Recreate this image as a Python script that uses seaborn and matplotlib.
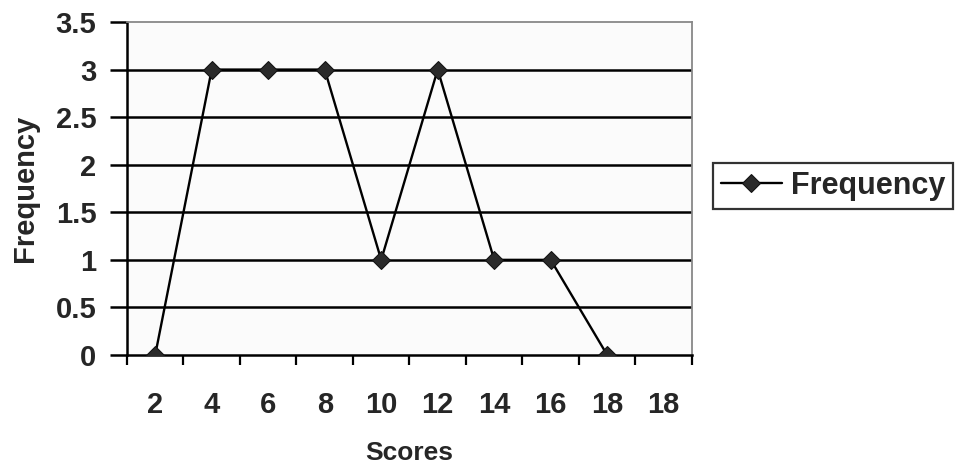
import matplotlib
matplotlib.use("Agg")
import matplotlib.pyplot as plt
import numpy as np
import pandas as pd
import seaborn as sns

# scores shown on the x axis (the last category has no value)
score_labels = ["2", "4", "6", "8", "10", "12", "14", "16", "18", "18"]
frequency = [0, 3, 3, 3, 1, 3, 1, 1, 0]
y_ticks = [0, 0.5, 1, 1.5, 2, 2.5, 3, 3.5]

sns.set_theme(style="white")
plt.rcParams["font.family"] = ["Liberation Sans", "DejaVu Sans"]
plt.rcParams["font.weight"] = "bold"

df = pd.DataFrame({"pos": np.arange(len(frequency)), "Frequency": frequency})

fig = plt.figure(figsize=(9.56, 4.66), dpi=100)
ax = fig.add_axes([0.1328, 0.2382, 0.5910, 0.7146])
ax.set_facecolor("#fbfbfb")

for yv in y_ticks[1:-1]:
    ax.axhline(yv, color="black", lw=1.8, zorder=1)

sns.lineplot(data=df, x="pos", y="Frequency", color="black", lw=1.7,
             marker="D", markersize=9, markerfacecolor="#2a2a2a",
             markeredgecolor="#111111", label="Frequency", ax=ax, zorder=3)

ax.set_xlim(-0.5, len(score_labels) - 0.5)
ax.set_ylim(0, 3.5)
ax.set_yticks(y_ticks)
ax.set_yticklabels([f"{v:g}" for v in y_ticks], fontsize=21, fontweight="bold")

# tick marks between categories, labels centred on categories
ax.set_xticks(np.arange(len(score_labels) + 1) - 0.5)
ax.set_xticklabels([])
ax.set_xticks(np.arange(len(score_labels)), minor=True)
ax.set_xticklabels(score_labels, minor=True, fontsize=21, fontweight="bold")
ax.tick_params(axis="x", which="major", direction="out", length=7, width=1.6,
               color="black", bottom=True)
ax.tick_params(axis="x", which="minor", length=0, pad=26, bottom=True)
ax.tick_params(axis="y", direction="out", length=12, width=1.8, color="black",
               left=True, pad=10)

ax.set_xlabel("Scores", fontsize=19, fontweight="bold", labelpad=16)
ax.set_ylabel("Frequency", fontsize=21, fontweight="bold", labelpad=12)

for side in ["left", "bottom"]:
    ax.spines[side].set_color("black")
    ax.spines[side].set_linewidth(1.8)
for side in ["top", "right"]:
    ax.spines[side].set_color("#888888")
    ax.spines[side].set_linewidth(1.3)
    ax.spines[side].set_linestyle((0, (1, 1)))

ax.get_legend().remove()
handles, labels = ax.get_legend_handles_labels()
leg = fig.legend(handles, labels, loc="center left",
                 bbox_to_anchor=(0.746, 0.601), frameon=True, fancybox=False,
                 prop={"size": 22, "weight": "bold"}, handlelength=2.0,
                 handletextpad=0.3, borderpad=0.25, borderaxespad=0)
leg.get_frame().set_edgecolor("black")
leg.get_frame().set_linewidth(1.6)

fig.savefig("out.png", dpi=100)
